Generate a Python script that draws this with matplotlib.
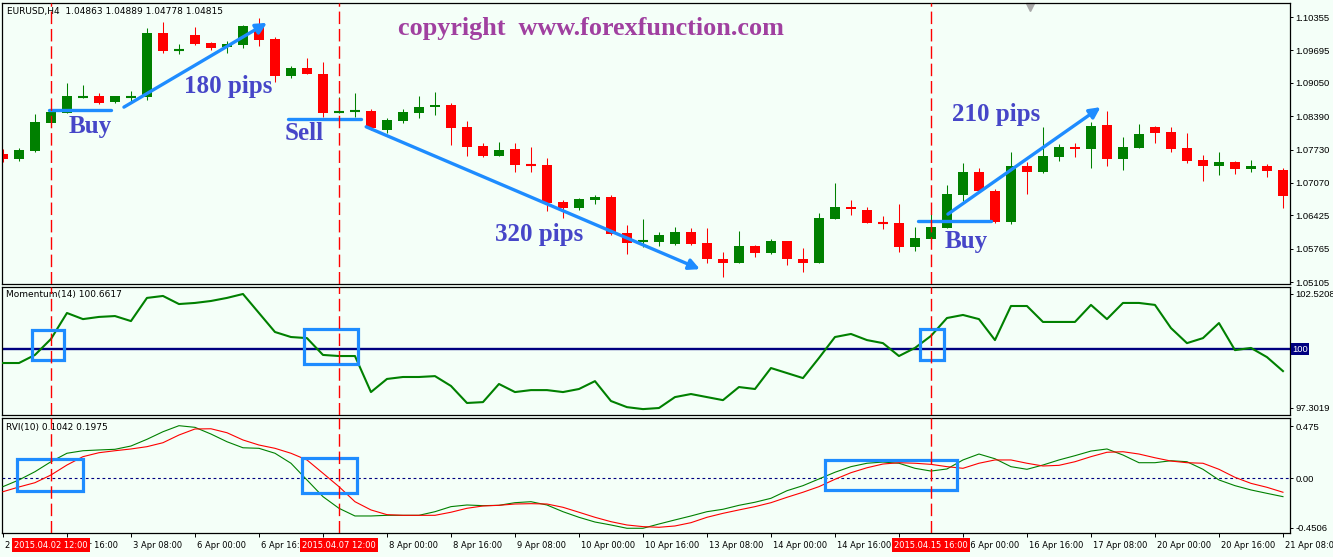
import matplotlib.pyplot as plt
import matplotlib.transforms as mtransforms
from matplotlib.patches import Rectangle

# ==================== 数据 (EURUSD H4, 2 Apr - 21 Apr 2015) ====================
open_ = [1.0764, 1.0754, 1.0770, 1.0826, 1.0845, 1.0877, 1.0879, 1.0867, 1.0877, 1.0877,
         1.1004, 1.0970, 1.1000, 1.0984, 1.0976, 1.0980, 1.1018, 1.0992, 1.0919, 1.0934,
         1.0923, 1.0847, 1.0849, 1.0849, 1.0812, 1.0829, 1.0845, 1.0857, 1.0861, 1.0818,
         1.0780, 1.0760, 1.0774, 1.0744, 1.0742, 1.0669, 1.0657, 1.0673, 1.0679, 1.0608,
         1.0590, 1.0590, 1.0586, 1.0610, 1.0588, 1.0556, 1.0548, 1.0582, 1.0568, 1.0592,
         1.0556, 1.0548, 1.0635, 1.0659, 1.0653, 1.0629, 1.0627, 1.0580, 1.0596, 1.0618,
         1.0683, 1.0728, 1.0691, 1.0629, 1.0740, 1.0728, 1.0758, 1.0778, 1.0774, 1.0822,
         1.0754, 1.0776, 1.0818, 1.0808, 1.0776, 1.0752, 1.0740, 1.0748, 1.0734, 1.0740,
         1.0732]
high = [1.0774, 1.0776, 1.0843, 1.0853, 1.0905, 1.0901, 1.0885, 1.0879, 1.0889, 1.1014,
        1.1026, 1.0982, 1.1016, 1.0986, 1.0988, 1.1020, 1.1034, 1.0996, 1.0938, 1.0954,
        1.0946, 1.0877, 1.0885, 1.0853, 1.0835, 1.0853, 1.0879, 1.0887, 1.0865, 1.0829,
        1.0786, 1.0788, 1.0786, 1.0778, 1.0756, 1.0673, 1.0677, 1.0683, 1.0683, 1.0624,
        1.0635, 1.0610, 1.0620, 1.0617, 1.0617, 1.0570, 1.0612, 1.0584, 1.0596, 1.0592,
        1.0578, 1.0647, 1.0707, 1.0673, 1.0659, 1.0641, 1.0665, 1.0620, 1.0645, 1.0703,
        1.0746, 1.0736, 1.0695, 1.0768, 1.0748, 1.0818, 1.0784, 1.0786, 1.0827, 1.0849,
        1.0798, 1.0824, 1.0820, 1.0818, 1.0806, 1.0762, 1.0768, 1.0750, 1.0752, 1.0744,
        1.0736]
low = [1.0748, 1.0750, 1.0768, 1.0824, 1.0845, 1.0875, 1.0863, 1.0865, 1.0867, 1.0871,
       1.0964, 1.0962, 1.0980, 1.0970, 1.0964, 1.0974, 1.0978, 1.0907, 1.0915, 1.0923,
       1.0837, 1.0845, 1.0837, 1.0812, 1.0806, 1.0826, 1.0835, 1.0841, 1.0782, 1.0760,
       1.0758, 1.0760, 1.0728, 1.0728, 1.0651, 1.0637, 1.0653, 1.0665, 1.0604, 1.0566,
       1.0580, 1.0582, 1.0584, 1.0584, 1.0548, 1.0520, 1.0548, 1.0560, 1.0566, 1.0544,
       1.0530, 1.0548, 1.0635, 1.0643, 1.0627, 1.0616, 1.0570, 1.0572, 1.0588, 1.0618,
       1.0671, 1.0689, 1.0627, 1.0625, 1.0685, 1.0726, 1.0750, 1.0758, 1.0736, 1.0740,
       1.0732, 1.0776, 1.0786, 1.0768, 1.0746, 1.0711, 1.0723, 1.0725, 1.0728, 1.0719,
       1.0657]
close = [1.0754, 1.0772, 1.0827, 1.0847, 1.0879, 1.0878, 1.0865, 1.0879, 1.0878, 1.1004,
         1.0968, 1.0971, 1.0982, 1.0974, 1.0982, 1.1018, 1.0990, 1.0919, 1.0934, 1.0923,
         1.0845, 1.0848, 1.0850, 1.0816, 1.0831, 1.0847, 1.0857, 1.0861, 1.0816, 1.0778,
         1.0760, 1.0772, 1.0742, 1.0742, 1.0667, 1.0657, 1.0675, 1.0679, 1.0606, 1.0588,
         1.0592, 1.0604, 1.0610, 1.0586, 1.0556, 1.0548, 1.0582, 1.0568, 1.0592, 1.0556,
         1.0548, 1.0637, 1.0659, 1.0655, 1.0627, 1.0627, 1.0580, 1.0598, 1.0620, 1.0685,
         1.0728, 1.0691, 1.0629, 1.0740, 1.0728, 1.0760, 1.0778, 1.0774, 1.0820, 1.0754,
         1.0778, 1.0804, 1.0806, 1.0774, 1.0750, 1.0740, 1.0748, 1.0734, 1.0740, 1.0730,
         1.0681]

momentum = [99.36, 99.36, 99.73, 100.46, 101.65, 101.37, 101.47, 101.51, 101.28, 102.34,
            102.43, 102.06, 102.11, 102.20, 102.34, 102.52, 101.65, 100.78, 100.55, 100.50,
            99.73, 99.68, 99.68, 98.03, 98.63, 98.72, 98.72, 98.76, 98.31, 97.53,
            97.57, 98.40, 98.03, 98.12, 98.12, 98.03, 98.17, 98.53, 97.62, 97.34,
            97.25, 97.30, 97.80, 97.94, 97.80, 97.66, 98.26, 98.17, 99.13, 98.90,
            98.67, 99.59, 100.55, 100.69, 100.41, 100.27, 99.68, 100.05, 100.60, 101.42,
            101.56, 101.37, 100.41, 101.97, 101.97, 101.24, 101.24, 101.24, 102.02, 101.37,
            102.11, 102.11, 102.02, 100.96, 100.27, 100.50, 101.19, 99.95, 100.05, 99.63,
            98.99]

rvi_main = [-0.076, -0.015, 0.060, 0.151, 0.228, 0.251, 0.258, 0.264, 0.294, 0.355,
            0.424, 0.479, 0.464, 0.403, 0.333, 0.278, 0.273, 0.228, 0.137, -0.015,
            -0.167, -0.273, -0.343, -0.343, -0.337, -0.337, -0.337, -0.304, -0.258, -0.243,
            -0.249, -0.246, -0.222, -0.213, -0.243, -0.304, -0.355, -0.398, -0.425, -0.455,
            -0.455, -0.416, -0.379, -0.343, -0.304, -0.282, -0.246, -0.218, -0.182, -0.113,
            -0.067, -0.006, 0.055, 0.106, 0.137, 0.148, 0.137, 0.091, 0.066, 0.085,
            0.167, 0.221, 0.178, 0.106, 0.082, 0.121, 0.167, 0.206, 0.248, 0.267,
            0.212, 0.142, 0.142, 0.160, 0.151, 0.082, -0.015, -0.067, -0.106, -0.137,
            -0.167]
rvi_signal = [-0.122, -0.079, -0.040, 0.030, 0.121, 0.197, 0.233, 0.251, 0.267, 0.288,
              0.324, 0.394, 0.449, 0.451, 0.415, 0.349, 0.303, 0.273, 0.228, 0.167,
              0.046, -0.076, -0.213, -0.288, -0.331, -0.337, -0.337, -0.337, -0.309, -0.273,
              -0.252, -0.246, -0.234, -0.231, -0.234, -0.264, -0.309, -0.355, -0.395, -0.425,
              -0.440, -0.446, -0.434, -0.404, -0.355, -0.319, -0.288, -0.258, -0.222, -0.173,
              -0.127, -0.076, -0.009, 0.051, 0.096, 0.130, 0.142, 0.137, 0.127, 0.106,
              0.091, 0.137, 0.167, 0.167, 0.137, 0.112, 0.118, 0.151, 0.197, 0.237,
              0.242, 0.221, 0.187, 0.157, 0.142, 0.137, 0.082, 0.009, -0.046, -0.082,
              -0.127]

time_tick_pos = list(range(0, 81, 4))
# 被红色竖线时间标签完全遮住的刻度留空
time_tick_labels = ["2 Apr 2015", "2 Apr 16:00", "3 Apr 08:00", "6 Apr 00:00", "6 Apr 16:00",
                    "", "8 Apr 00:00", "8 Apr 16:00", "9 Apr 08:00", "10 Apr 00:00",
                    "10 Apr 16:00", "13 Apr 08:00", "14 Apr 00:00", "14 Apr 16:00", "",
                    "16 Apr 00:00", "16 Apr 16:00", "17 Apr 08:00", "20 Apr 00:00", "20 Apr 16:00",
                    "21 Apr 08:00"]
price_ticks = [1.10355, 1.09695, 1.09050, 1.08390, 1.07730, 1.07070, 1.06425, 1.05765, 1.05105]
mom_ticks = [102.5208, 97.3019]
rvi_ticks = [0.475, 0.0, -0.4506]
rvi_tick_labels = ["0.475", "0.00", "-0.4506"]

vline_pos = [3, 21, 58]
vline_labels = ["2015.04.02 12:00", "2015.04.07 12:00", "2015.04.15 16:00"]

# 标注 (蓝色水平线 / 箭头 / 文字 / 方框)
entry_lines = [(2.875, 6.75, 1.0851), (17.8, 22.4, 1.0833), (57.2, 61.75, 1.0631)]
move_arrows = [((7.56, 1.0857), (16.5, 1.1024)),
               ((22.7, 1.0818), (43.56, 1.0536)),
               ((59.06, 1.0645), (68.6, 1.0857))]
notes = [("Buy", 5.44, 1.0818), ("180 pips", 14.06, 1.0897), ("Sell", 18.8, 1.0804),
         ("320 pips", 33.5, 1.0604), ("Buy", 60.2, 1.0590), ("210 pips", 62.1, 1.0843)]
mom_boxes = [(1.81, 3.81, 99.50, 100.87), (18.8, 22.2, 99.31, 100.92), (57.3, 58.8, 99.50, 100.92)]
rvi_boxes = [(0.875, 5.0, -0.116, 0.176), (18.7, 22.1, -0.134, 0.185), (51.4, 59.6, -0.106, 0.167)]

# ==================== 样式 ====================
BG = "#F4FFF8"
GREEN = "#008000"
RED = "#FF0000"
NAVY = "#000080"
BLUE = "#1E8CFF"
NOTE_COLOR = "#4646C8"
W, H = 1333, 557

fig = plt.figure(figsize=(W / 100, H / 100), dpi=100, facecolor=BG)


def px_axes(left, top, right, bottom):
    ax = fig.add_axes([left / W, 1 - bottom / H, (right - left) / W, (bottom - top) / H])
    ax.set_facecolor(BG)
    for sp in ax.spines.values():
        sp.set_linewidth(0.9)
        sp.set_color("black")
    ax.set_xlim(-0.06, 80.44)
    ax.yaxis.tick_right()
    ax.tick_params(axis="y", direction="out", length=2.5, width=0.7, pad=1.5, labelsize=6.8)
    ax.tick_params(axis="x", bottom=False, labelbottom=False)
    return ax


def right_labels(ax):
    for lbl in ax.get_yticklabels():
        lbl.set_family("Liberation Sans")


ax_p = px_axes(2, 3, 1290, 284)
ax_m = px_axes(2, 287, 1290, 415)
ax_r = px_axes(2, 418, 1290, 533)

# --- 主图 K线 ---
for i in range(len(open_)):
    o, h, l, c = open_[i], high[i], low[i], close[i]
    col = GREEN if c >= o else RED
    ax_p.vlines(i, l, h, color=col, lw=0.75)
    if abs(c - o) < 0.00025:
        ax_p.hlines((o + c) / 2, i - 0.33, i + 0.33, color=col, lw=1.5)
    else:
        ax_p.bar(i, c - o, bottom=o, width=0.68, color=col, linewidth=0)

ax_p.set_ylim(1.05066, 1.10633)
ax_p.set_yticks(price_ticks)
ax_p.set_yticklabels([f"{v:.5f}" for v in price_ticks])
right_labels(ax_p)

for x0, x1, y in entry_lines:
    ax_p.plot([x0, x1], [y, y], color=BLUE, lw=2.4, solid_capstyle="round", zorder=5)
for (xs, ys), (xe, ye) in move_arrows:
    ax_p.annotate("", xy=(xe, ye), xytext=(xs, ys),
                  arrowprops=dict(arrowstyle="-|>", color=BLUE, lw=2.4, mutation_scale=16,
                                  shrinkA=0, shrinkB=0), zorder=5)
for txt, x, y in notes:
    ax_p.text(x, y, txt, color=NOTE_COLOR, fontsize=18, fontweight="bold",
              family="Liberation Serif", ha="center", va="center", zorder=6)

ax_p.text((591 - 2) / 1288, 1 - (28 - 3) / 281, "copyright  www.forexfunction.com",
          transform=ax_p.transAxes, color="#A040A0", fontsize=18.8, fontweight="bold",
          family="Liberation Serif", ha="center", va="center")
ax_p.text(0.004, 0.968, "EURUSD,H4  1.04863 1.04889 1.04778 1.04815", transform=ax_p.transAxes,
          fontsize=6.5, va="center", ha="left")
ax_p.plot([64.2], [0.985], marker="v", color="#A8A8A8", markersize=6,
          transform=mtransforms.blended_transform_factory(ax_p.transData, ax_p.transAxes),
          clip_on=False)

# --- Momentum ---
ax_m.plot(range(len(momentum)), momentum, color=GREEN, lw=1.5, zorder=3)
ax_m.axhline(100, color=NAVY, lw=1.7, zorder=2)
ax_m.set_ylim(96.98, 102.84)
ax_m.set_yticks(mom_ticks)
ax_m.set_yticklabels([f"{v:.4f}" for v in mom_ticks])
right_labels(ax_m)
ax_m.text(1.0015, 100, "100", transform=mtransforms.blended_transform_factory(ax_m.transAxes, ax_m.transData),
          color="white", fontsize=6.8, family="Liberation Sans", ha="left", va="center",
          bbox=dict(boxstyle="square,pad=0.15", fc=NAVY, ec="none"), clip_on=False)
ax_m.text(0.003, 0.9375, "Momentum(14) 100.6617", transform=ax_m.transAxes, fontsize=6.5,
          va="center", ha="left")
for x0, x1, y0, y1 in mom_boxes:
    ax_m.add_patch(Rectangle((x0, y0), x1 - x0, y1 - y0, fill=False, ec=BLUE, lw=2.3, zorder=5))

# --- RVI ---
ax_r.plot(range(len(rvi_main)), rvi_main, color=GREEN, lw=0.8, zorder=3)
ax_r.plot(range(len(rvi_signal)), rvi_signal, color=RED, lw=0.8, zorder=3)
ax_r.axhline(0, color=NAVY, lw=0.8, linestyle=(0, (2.5, 2.5)), zorder=2)
ax_r.set_ylim(-0.498, 0.549)
ax_r.set_yticks(rvi_ticks)
ax_r.set_yticklabels(rvi_tick_labels)
right_labels(ax_r)
ax_r.text(0.003, 0.92, "RVI(10) 0.1042 0.1975", transform=ax_r.transAxes, fontsize=6.5,
          va="center", ha="left")
for x0, x1, y0, y1 in rvi_boxes:
    ax_r.add_patch(Rectangle((x0, y0), x1 - x0, y1 - y0, fill=False, ec=BLUE, lw=2.3, zorder=5))

# 时间轴
ax_r.tick_params(axis="x", bottom=True, labelbottom=True, direction="out", length=3,
                 width=0.7, pad=2.5, labelsize=6)
ax_r.set_xticks(time_tick_pos)
ax_r.set_xticklabels(time_tick_labels, ha="left")
shift = mtransforms.ScaledTranslation(2 / 100, 0, fig.dpi_scale_trans)
for lbl in ax_r.get_xticklabels():
    lbl.set_transform(lbl.get_transform() + shift)

# --- 竖直红色虚线 + 时间标签 ---
for ax in (ax_p, ax_m, ax_r):
    for k in vline_pos:
        ax.axvline(k, color=RED, lw=1.0, linestyle=(0, (9, 3.5)), zorder=7)
for k, lab in zip(vline_pos, vline_labels):
    ax_r.text(k, -0.105, lab, transform=mtransforms.blended_transform_factory(ax_r.transData, ax_r.transAxes),
              color="white", fontsize=6, ha="center", va="center", clip_on=False, zorder=10,
              bbox=dict(boxstyle="square,pad=0.3", fc=RED, ec="none"))

fig.savefig("out.png", dpi=100, facecolor=BG)
